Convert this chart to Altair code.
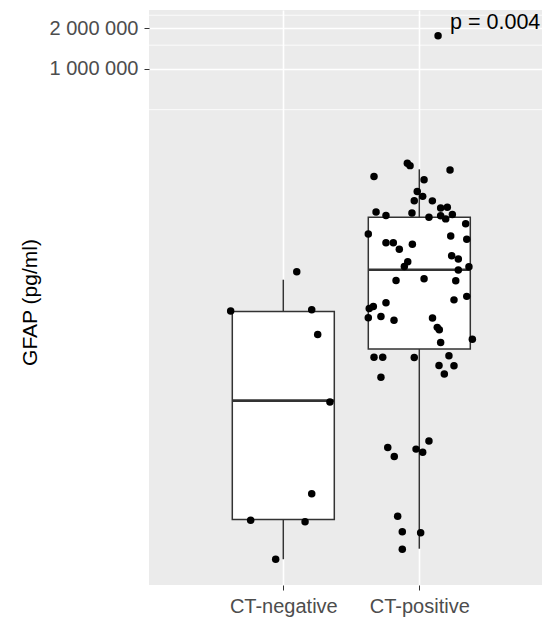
import json
import pandas as pd
import altair as alt

# ---- data -----------------------------------------------------------------
groups = ["CT-negative", "CT-positive"]

neg_gfap = [31500, 16100, 16500, 10800, 3420, 714, 455, 443, 234]
neg_jitter = [0.099, -0.387, 0.209, 0.253, 0.343, 0.209, -0.240, 0.160, -0.056]

pos_gfap = [1762000, 200000, 192400, 178900, 159700, 151000, 124000, 113900,
            105900, 105500, 94600, 93500, 87300, 85900, 83600, 82200, 82000,
            79900, 77600, 71300, 59900, 57900, 54800, 51700, 51600, 46300,
            50300, 41300, 39100, 37300, 34500, 34300, 32400, 27900, 27100,
            27000, 20700, 19500, 18600, 17400, 16800, 14400, 14700, 13800,
            14300, 12200, 11700, 9440, 9980, 7330, 7320, 7310, 7530, 6360,
            6350, 5500, 5220, 1760, 1570, 1530, 1450, 1350, 487, 374, 368, 277]
pos_jitter = [0.138, -0.088, -0.068, 0.226, -0.333, 0.035, -0.015, 0.025,
              -0.037, 0.096, 0.206, 0.157, -0.318, -0.054, 0.243, -0.245, 0.157,
              0.071, 0.194, 0.341, -0.375, 0.231, 0.349, -0.245, -0.191, -0.147,
              -0.051, 0.238, 0.287, -0.085, -0.110, 0.365, 0.287, 0.035, -0.171,
              0.268, 0.349, 0.255, -0.245, -0.338, -0.368, -0.375, -0.282, -0.186,
              0.097, 0.132, 0.147, 0.157, 0.390, -0.333, -0.269, -0.037, 0.218,
              0.145, 0.255, 0.184, -0.282, 0.071, -0.232, -0.024, 0.025, -0.184,
              -0.159, -0.125, 0.010, -0.125]

# box statistics (per group)
box_lower = [234, 280]
box_q1 = [460, 8430]
box_median = [3500, 32600]
box_q3 = [16000, 79900]
box_upper = [27500, 180700]

major_breaks = [1000000, 2000000]
minor_breaks = [500000, 1500000, 2500000]

p_label = ["p = 0.004"]
p_label_x = [2.226]
p_label_y = [2180000]

# ---- tables ---------------------------------------------------------------
pts = pd.DataFrame({
    "group": [groups[0]] * len(neg_gfap) + [groups[1]] * len(pos_gfap),
    "gfap": neg_gfap + pos_gfap,
    "jitter": neg_jitter + pos_jitter,
})
pts["pos"] = [groups.index(g) + 1 + j for g, j in zip(pts["group"], pts["jitter"])]

box = pd.DataFrame({
    "group": groups,
    "pos": [i + 1 for i in range(len(groups))],
    "lower": box_lower, "q1": box_q1, "median": box_median,
    "q3": box_q3, "upper": box_upper,
})
minor = pd.DataFrame({"v": minor_breaks})
ann = pd.DataFrame({"label": p_label, "x": p_label_x, "y": p_label_y})

FONT = "Liberation Sans"
xscale = alt.Scale(domain=[0.0125, 2.9022], nice=False, zero=False)
yscale = alt.Scale(type="log", domain=[150.8, 2734000], nice=False)

xaxis = alt.Axis(values=[1, 2], labelExpr=f"{json.dumps(groups)}[datum.value - 1]",
                 grid=True, gridColor="white", gridWidth=1.6, domain=False,
                 tickColor="#333333", tickSize=5, tickWidth=1,
                 labelColor="#4D4D4D", labelFont=FONT, labelFontSize=20,
                 labelPadding=6, labelFlush=False)
yaxis = alt.Axis(values=major_breaks,
                 labelExpr="replace(format(datum.value, ','), regexp(',', 'g'), ' ')",
                 grid=True, gridColor="white", gridWidth=1.6, domain=False,
                 tickColor="#333333", tickSize=5, tickWidth=1,
                 labelColor="#4D4D4D", labelFont=FONT, labelFontSize=20,
                 labelPadding=6, labelFlush=False,
                 titleFont=FONT, titleFontSize=21, titleFontWeight="normal",
                 titleColor="black", titleX=-119, titleY=292,
                 titleAlign="center", titleBaseline="middle")
YT = "GFAP (pg/ml)"


def X(field):
    return alt.X(field, type="quantitative", scale=xscale, axis=xaxis, title=None)


def Y(field):
    return alt.Y(field, type="quantitative", scale=yscale, axis=yaxis, title=YT)


minor_layer = alt.Chart(minor).mark_rule(color="white", strokeWidth=0.8).encode(y=Y("v"))

box_base = alt.Chart(box).transform_calculate(
    xlo="datum.pos - 0.375", xhi="datum.pos + 0.375")

whisk_lo = box_base.mark_rule(color="#333333", strokeWidth=1.5).encode(
    x=X("pos"), y=Y("lower"), y2="q1:Q")
whisk_hi = box_base.mark_rule(color="#333333", strokeWidth=1.5).encode(
    x=X("pos"), y=Y("q3"), y2="upper:Q")
rects = box_base.mark_rect(fill="white", stroke="#333333", strokeWidth=1.5).encode(
    x=X("xlo"), x2="xhi:Q", y=Y("q1"), y2="q3:Q")
med = box_base.mark_rule(color="#333333", strokeWidth=2.6).encode(
    x=X("xlo"), x2="xhi:Q", y=Y("median"))

points = alt.Chart(pts).mark_circle(size=56, color="black", opacity=1).encode(
    x=X("pos"), y=Y("gfap"))

text = alt.Chart(ann).mark_text(align="left", baseline="middle", font=FONT,
                                fontSize=21.5, color="black").encode(
    x=X("x"), y=Y("y"), text="label:N")

chart = alt.layer(minor_layer, whisk_lo, whisk_hi, rects, med, points, text).properties(
    width=393, height=575,
    padding={"left": 141, "top": 2, "right": 0, "bottom": 32},
    autosize=alt.AutoSizeParams(type="none"),
    background="white",
).configure_view(fill="#EBEBEB", stroke=None)

chart.save("out.html", embed_options={"renderer": "svg", "actions": False})
